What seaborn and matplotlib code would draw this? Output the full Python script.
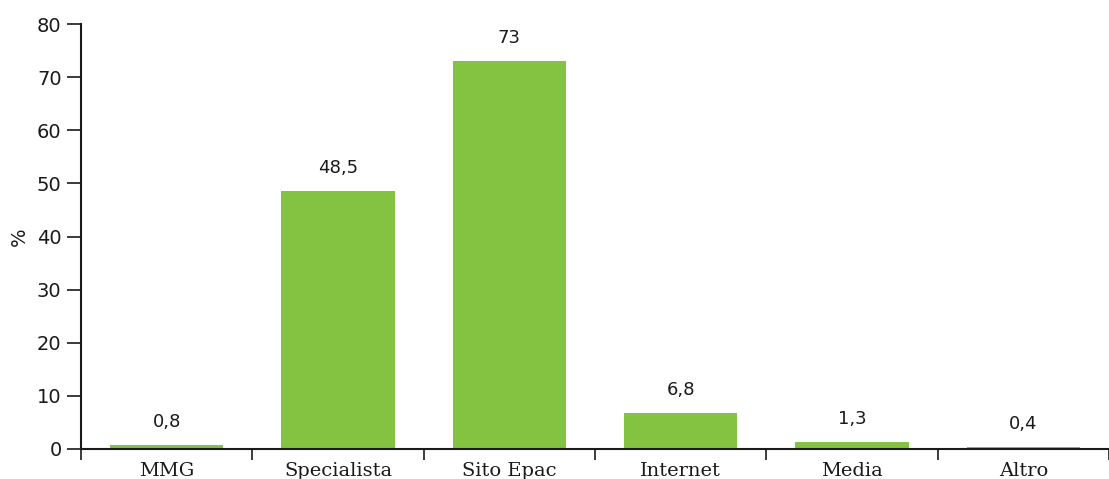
import matplotlib
matplotlib.use("Agg")
import matplotlib.pyplot as plt
import seaborn as sns
import pandas as pd

categories = ["MMG", "Specialista", "Sito Epac", "Internet", "Media", "Altro"]
values = [0.8, 48.5, 73, 6.8, 1.3, 0.4]
value_labels = ["0,8", "48,5", "73", "6,8", "1,3", "0,4"]
y_ticks = [0, 10, 20, 30, 40, 50, 60, 70, 80]

sns.set_style("white")
plt.rcParams["font.family"] = ["DejaVu Sans"]

df = pd.DataFrame({"cat": categories, "val": values})

fig = plt.figure(figsize=(11.09, 4.79), dpi=100)
ax = fig.add_axes([81 / 1109, 30 / 479, 1 - 81 / 1109, 425 / 479])

sns.barplot(data=df, x="cat", y="val", color="#84c341", saturation=1,
            width=0.66, linewidth=0, ax=ax)

for i, (v, lab) in enumerate(zip(values, value_labels)):
    ax.annotate(lab, (i, v), xytext=(0, 10), textcoords="offset points",
                ha="center", va="bottom", fontsize=13, color="#1a1a1a")

ax.set_xlim(-0.5, 5.5)
ax.set_ylim(0, 80)
ax.set_yticks(y_ticks)
ax.tick_params(axis="y", which="major", direction="out", length=10, width=1.2,
               color="#1a1a1a", labelsize=14, labelcolor="#1a1a1a", pad=4, left=True)

# category labels centred, tick marks at boundaries between categories
ax.set_xticks(range(len(categories)))
ax.set_xticklabels(categories, fontfamily="DejaVu Serif", fontsize=14,
                   color="#1a1a1a")
ax.tick_params(axis="x", which="major", length=0, pad=9)
ax.set_xticks([i - 0.5 for i in range(len(categories) + 1)], minor=True)
ax.tick_params(axis="x", which="minor", direction="out", length=8, width=1.2,
               color="#1a1a1a", bottom=True)

ax.set_xlabel("")
ax.set_ylabel("%", fontsize=14, color="#1a1a1a", labelpad=6)

for side in ["top", "right"]:
    ax.spines[side].set_visible(False)
for side in ["left", "bottom"]:
    ax.spines[side].set_color("#1a1a1a")
    ax.spines[side].set_linewidth(1.5)

fig.savefig("out.png", dpi=100)
